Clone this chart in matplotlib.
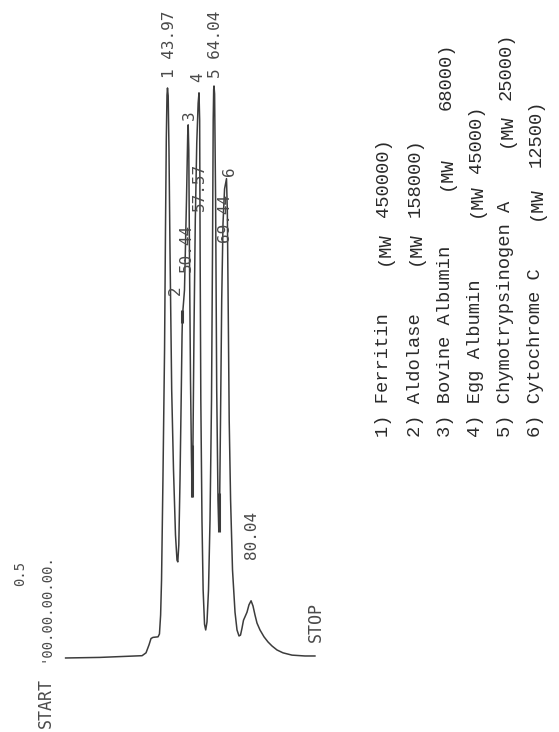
import matplotlib
matplotlib.use("Agg")
import matplotlib.pyplot as plt

# Chromatogram trace read from the recorder strip (time in min, signal in % of full scale)
time_min = [0.0, 14.8, 33.0, 34.7, 36.0, 36.85, 37.7, 39.9, 40.5, 41.0, 41.4, 42.0, 42.7, 43.1,
            43.45, 43.75, 43.97, 44.27, 44.61, 45.05, 45.78, 46.56, 47.42, 48.07, 48.42, 48.85,
            49.37, 49.93, 50.25, 50.44, 51.3, 52.17, 52.69, 52.9, 53.16, 53.47, 53.9, 54.33,
            54.64, 54.98, 55.41, 55.97, 56.6, 57.2, 57.57, 57.85, 58.05, 58.35, 58.85, 59.35,
            59.95, 60.46, 61.02, 61.67, 62.32, 62.97, 63.4, 63.7, 63.9, 64.04, 64.3, 64.73,
            65.21, 65.77, 66.11, 66.42, 66.85, 67.37, 67.93, 68.6, 69.44, 69.8, 70.2, 70.6,
            71.2, 72.03, 73.11, 73.97, 74.83, 75.48, 76.12, 76.77, 77.42, 78.28, 79.14, 80.04,
            80.87, 81.74, 82.6, 83.89, 85.62, 87.35, 89.07, 91.23, 93.82, 97.7, 103.3, 107.6]
signal = [0.0, 0.1, 0.4, 0.9, 2.3, 3.4, 3.6, 3.7, 4.2, 7.5, 13.6, 31.1, 53.8, 74.8,
          90.6, 98.4, 99.65, 98.25, 88.8, 71.3, 46.85, 32.9, 21.5, 17.1, 16.8, 19.8,
          31.1, 46.85, 56.5, 59.8, 64.3, 80.1, 91.4, 93.2, 88.8, 69.6, 48.6, 34.6,
          28.15, 38.1, 57.3, 76.6, 90.0, 97.0, 98.8, 94.0, 71.3, 45.1, 24.1, 11.9,
          5.9, 4.9, 6.3, 11.9, 24.1, 45.1, 71.3, 94.1, 99.4, 100.0, 98.6, 80.1,
          46.85, 27.6, 22.4, 25.0, 41.6, 62.6, 76.0, 82.0, 83.8, 78.0, 60.0, 41.6,
          27.6, 15.4, 8.0, 4.9, 3.85, 4.0, 5.2, 6.6, 7.2, 8.0, 9.3, 10.0,
          9.1, 7.5, 6.1, 4.9, 3.7, 2.8, 2.1, 1.4, 0.9, 0.5, 0.35, 0.35]

# integrator event marks (time, low, high)
mark_t = [50.44, 54.64, 66.11]
mark_lo = [58.6, 28.15, 22.0]
mark_hi = [60.8, 37.2, 28.8]

# printed peak numbers / retention times: text, time, signal
peak_text = ['1 43.97', '3', '4', '5 64.04', '6', '69.44', '2', '50.44', '57.57', '80.04']
peak_tx = [44.62, 53.25, 57.13, 64.9, 70.94, 68.36, 47.2, 51.95, 57.57, 80.44]
peak_ty = [107.2, 94.9, 101.6, 107.2, 85.1, 76.9, 64.3, 71.7, 82.3, 21.5]

# protein standards
std_names = ['1) Ferritin', '2) Aldolase', '3) Bovine Albumin', '4) Egg Albumin',
             '5) Chymotrypsinogen A', '6) Cytochrome C']
std_mw = ['450000)', '158000)', '68000)', '45000)', '25000)', '12500)']

fig = plt.figure(figsize=(5.59, 7.32), dpi=100)
ax = fig.add_axes([0, 0, 1, 1])
ax.set_xlim(-28.32, 212.94)
ax.set_ylim(-12.94, 115.03)
ax.axis('off')

ink = '#3c3c3c'
ax.plot(time_min, signal, color=ink, lw=1.1, solid_joinstyle='round')
ax.vlines(mark_t, mark_lo, mark_hi, color=ink, lw=2.2)

mono = 'DejaVu Sans Mono'
for txt, tx, ty in zip(peak_text, peak_tx, peak_ty):
    ax.text(tx, ty, txt, rotation=90, ha='center', va='center',
            family=mono, fontsize=11.5, color='#4a4a4a')

ax.text(-19.69, 14.7, '0.5', rotation=90, ha='center', va='center',
        family=mono, fontsize=10, color='#4a4a4a')
ax.text(-8.9, 8.9, "'00.00.00.00.", rotation=90, ha='center', va='center',
        family=mono, fontsize=10, color='#4a4a4a')
ax.text(-8.47, -7.9, 'START', rotation=90, ha='center', va='center',
        family=mono, fontsize=12, color='#4a4a4a')
ax.text(108.1, 6.3, 'STOP', rotation=90, ha='center', va='center',
        family=mono, fontsize=12, color='#4a4a4a')

# legend typed beside the trace
W, H = 559, 732
col_x = [384, 415, 446, 476, 506, 536]
mw_start = [265, 265, 190, 217, 147, 220]
val_start = [217, 217, 110, 173, 100, 167]
for i in range(6):
    fx = col_x[i] / W
    ax.text(fx, 1 - 437 / H, std_names[i], transform=ax.transAxes, rotation=90,
            ha='center', va='bottom', family='Liberation Mono', fontsize=13.5, color='#2a2a2a')
    ax.text(fx, 1 - mw_start[i] / H, '(MW', transform=ax.transAxes, rotation=90,
            ha='center', va='bottom', family='Liberation Mono', fontsize=13.5, color='#2a2a2a')
    ax.text(fx, 1 - val_start[i] / H, std_mw[i], transform=ax.transAxes, rotation=90,
            ha='center', va='bottom', family='Liberation Mono', fontsize=13.5, color='#2a2a2a')

fig.savefig('out.png', dpi=100)
